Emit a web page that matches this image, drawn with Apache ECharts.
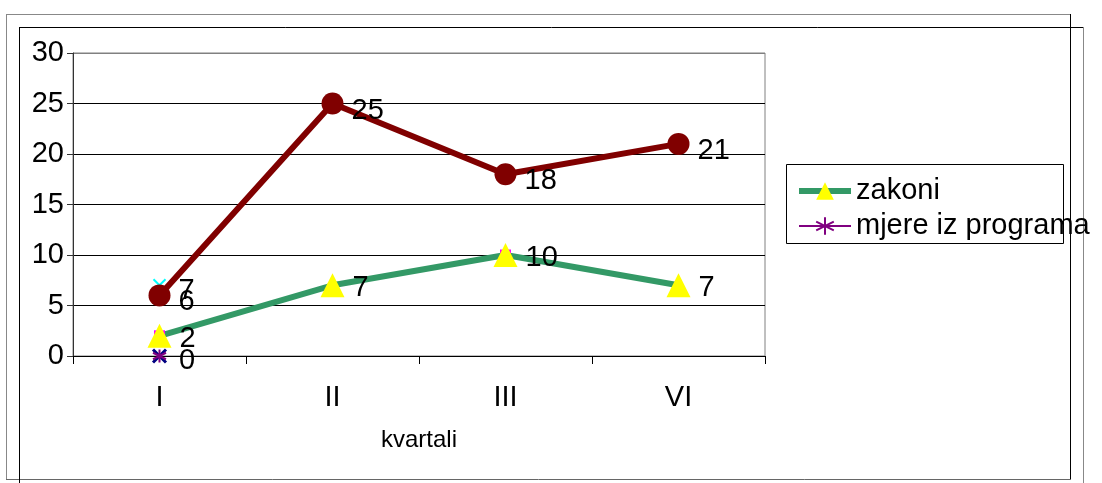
<!DOCTYPE html>
<html>
<head>
<meta charset="utf-8">
<script src="https://cdn.jsdelivr.net/npm/echarts@6/dist/echarts.min.js"></script>
<style>
  html, body { margin: 0; padding: 0; background: #fff; }
  #chart { width: 1102px; height: 483px; }
</style>
</head>
<body>
<div id="chart"></div>
<script>
// Quarterly counts
const quarters = ['I', 'II', 'III', 'VI'];
const yTicks = [0, 5, 10, 15, 20, 25, 30];

const ukupno = [6, 25, 18, 21];
const zakoni = [2, 7, 10, 7];
const mjereIzPrograma = [0, null, null, null];
const ostalo1 = [0, null, null, null];
const ostalo2 = [2, null, 10, null];
const ostalo3 = [7, null, null, null];

const legendNames = ['zakoni', 'mjere iz programa'];

const FONT = '"Liberation Sans", Arial, sans-serif';
const crossPath = 'path://M-1,-1L1,1M-1,1L1,-1';
const starPath = 'path://M0,-1L0,1M-0.87,-0.5L0.87,0.5M-0.87,0.5L0.87,-0.5';

const labelBase = {
  show: true,
  position: 'right',
  color: '#000',
  fontFamily: FONT,
  fontSize: 29
};

const chart = echarts.init(document.getElementById('chart'), null, { renderer: 'canvas' });

chart.setOption({
  animation: false,
  backgroundColor: '#fff',
  textStyle: { fontFamily: FONT },
  grid: {
    left: 73, top: 53, right: 337, bottom: 127,
    show: true, borderColor: '#808080', borderWidth: 1,
    containLabel: false
  },
  legend: {
    data: [
      { name: legendNames[0], lineStyle: { width: 6 } },
      { name: legendNames[1], lineStyle: { width: 2 } }
    ],
    orient: 'vertical',
    left: 796, top: 176,
    padding: 0,
    itemGap: 5,
    itemWidth: 52,
    itemHeight: 22,
    textStyle: { fontFamily: FONT, fontSize: 29, color: '#000', lineHeight: 30, padding: [0, 0, 0, 0] },
    selectedMode: false
  },
  xAxis: {
    type: 'category',
    data: quarters,
    boundaryGap: true,
    name: 'kvartali',
    nameLocation: 'middle',
    nameGap: 72,
    nameTextStyle: { fontFamily: FONT, fontSize: 24, color: '#000' },
    axisLine: { show: true, lineStyle: { color: '#000', width: 1 } },
    axisTick: { show: true, interval: 0, length: 8, inside: false, lineStyle: { color: '#000' } },
    axisLabel: { fontFamily: FONT, fontSize: 29, color: '#000', margin: 27, interval: 0 },
    splitLine: { show: false }
  },
  yAxis: {
    type: 'value',
    min: yTicks[0],
    max: yTicks[yTicks.length - 1],
    interval: 5,
    axisLine: { show: true, lineStyle: { color: '#333', width: 1 } },
    axisTick: { show: true, length: 6, inside: false, lineStyle: { color: '#333' } },
    axisLabel: { fontFamily: FONT, fontSize: 29, color: '#000', margin: 9 },
    splitLine: {
      show: true,
      lineStyle: { color: ['#000', '#000', '#000', '#000', '#000', '#000', '#808080'], width: 1 }
    }
  },
  series: [
    {
      name: 'ostalo1', type: 'line', data: ostalo1,
      symbol: crossPath, symbolSize: 13,
      lineStyle: { color: '#000080', width: 1 },
      itemStyle: { color: '#000080', borderColor: '#000080', borderWidth: 3 },
      label: { show: false }
    },
    {
      name: 'ostalo2', type: 'line', data: ostalo2, connectNulls: false,
      symbol: 'rect', symbolSize: 11,
      lineStyle: { opacity: 0 },
      itemStyle: { color: '#ff00ff' },
      label: { show: false }
    },
    {
      name: 'ostalo3', type: 'line', data: ostalo3,
      symbol: crossPath, symbolSize: 12,
      lineStyle: { color: '#00ffff', width: 1 },
      itemStyle: { color: '#00ffff', borderColor: '#00ffff', borderWidth: 2 },
      label: Object.assign({}, labelBase, { distance: 12, offset: [0, 6] })
    },
    {
      name: 'mjere iz programa', type: 'line', data: mjereIzPrograma,
      symbol: starPath, symbolSize: 13,
      lineStyle: { color: '#800080', width: 2 },
      itemStyle: { color: '#800080', borderColor: '#800080', borderWidth: 2 },
      label: Object.assign({}, labelBase, { distance: 12, offset: [0, 5] })
    },
    {
      name: 'ukupno', type: 'line', data: ukupno,
      symbol: 'circle', symbolSize: 22,
      lineStyle: { color: '#800000', width: 6 },
      itemStyle: { color: '#800000' },
      label: Object.assign({}, labelBase, { distance: 8, offset: [0, 7] })
    },
    {
      name: 'zakoni', type: 'line', data: zakoni,
      symbol: 'triangle', symbolSize: 24,
      lineStyle: { color: '#339966', width: 6 },
      itemStyle: { color: '#ffff00' },
      label: Object.assign({}, labelBase, { distance: 8, offset: [0, 3] })
    }
  ],
  graphic: [
    // outer frame
    { type: 'line', shape: { x1: 6, y1: 14.5, x2: 1070, y2: 14.5 }, style: { stroke: '#888', lineWidth: 1 } },
    { type: 'line', shape: { x1: 6.5, y1: 14, x2: 6.5, y2: 479 }, style: { stroke: '#888', lineWidth: 1 } },
    { type: 'line', shape: { x1: 1070.5, y1: 14, x2: 1070.5, y2: 479 }, style: { stroke: '#000', lineWidth: 1 } },
    { type: 'line', shape: { x1: 6, y1: 479.5, x2: 1071, y2: 479.5 }, style: { stroke: '#666', lineWidth: 1 } },
    // inner frame
    { type: 'line', shape: { x1: 19, y1: 27.5, x2: 1084, y2: 27.5 }, style: { stroke: '#000', lineWidth: 1 } },
    { type: 'line', shape: { x1: 19.5, y1: 27, x2: 19.5, y2: 483 }, style: { stroke: '#000', lineWidth: 1 } },
    { type: 'line', shape: { x1: 1083.5, y1: 27, x2: 1083.5, y2: 483 }, style: { stroke: '#888', lineWidth: 1 } },
    // legend box
    { type: 'rect', shape: { x: 786.5, y: 164.5, width: 277, height: 79 }, style: { fill: 'none', stroke: '#000', lineWidth: 1 } }
  ]
});
</script>
</body>
</html>
